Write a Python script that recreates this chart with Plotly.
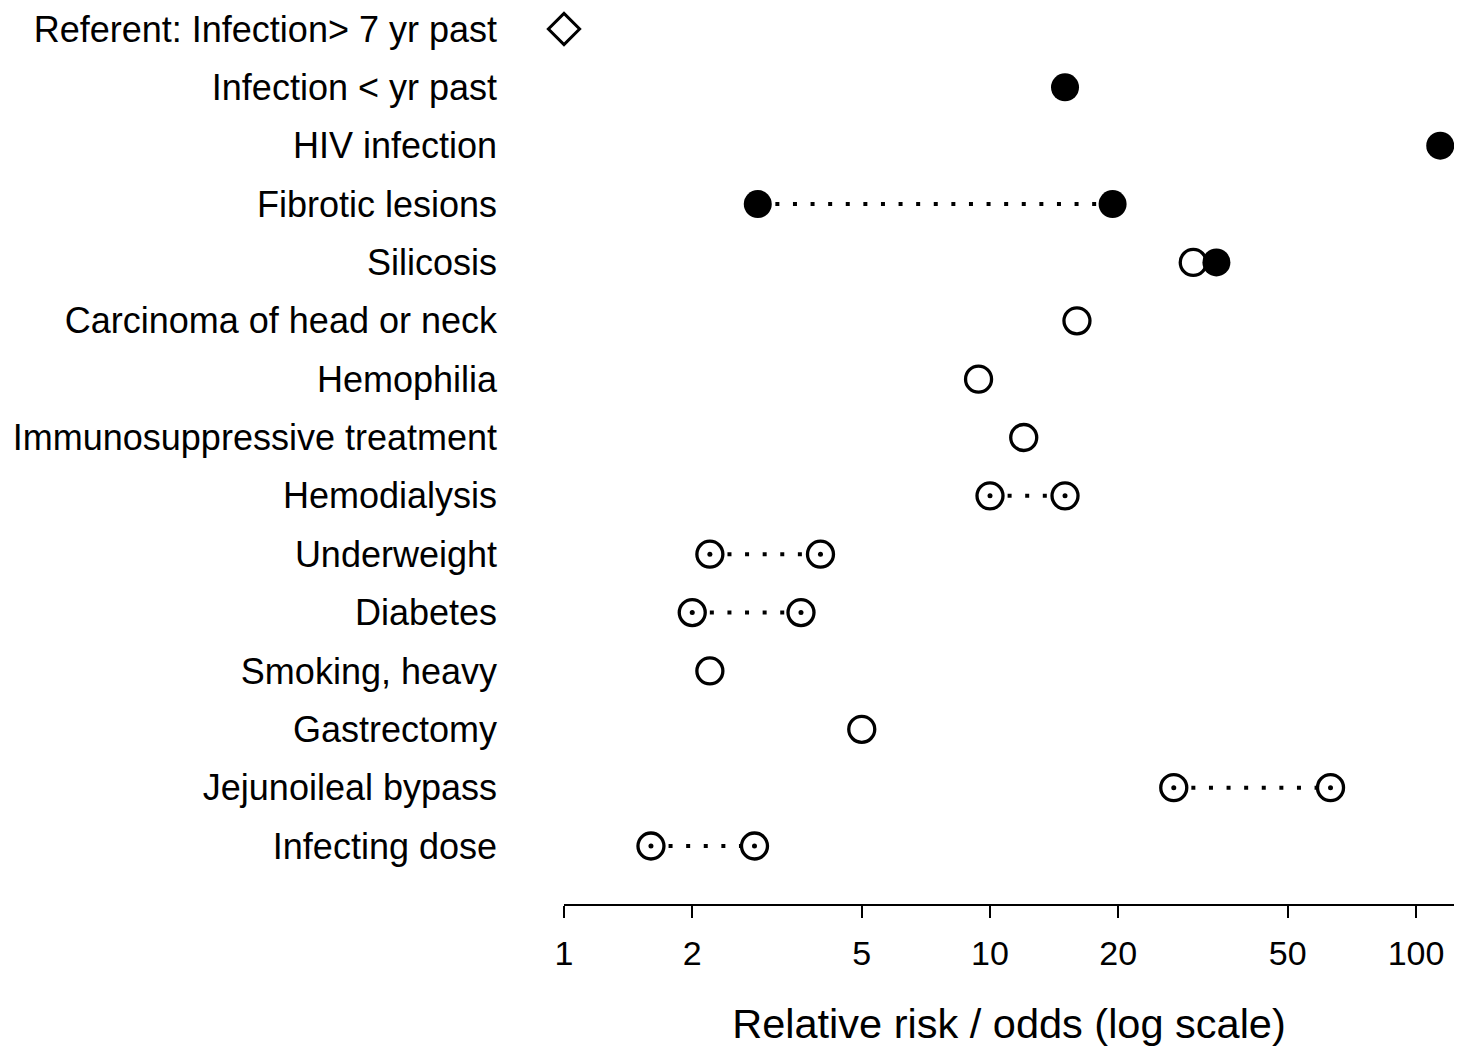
import plotly.graph_objects as go

# ---- data ----
labels = [
    "Referent: Infection> 7 yr past",
    "Infection < yr past",
    "HIV infection",
    "Fibrotic lesions",
    "Silicosis",
    "Carcinoma of head or neck",
    "Hemophilia",
    "Immunosuppressive treatment",
    "Hemodialysis",
    "Underweight",
    "Diabetes",
    "Smoking, heavy",
    "Gastrectomy",
    "Jejunoileal bypass",
    "Infecting dose",
]
risk_low = [1, 15, 114, 2.85, 30, 16, 9.4, 12, 10, 2.2, 2.0, 2.2, 5.0, 27, 1.6]
risk_high = [None, None, None, 19.4, 34, None, None, None, 15, 4.0, 3.6, None, None, 63, 2.8]
low_style = ["referent", "filled", "filled", "filled", "open", "open", "open", "open",
             "opendot", "opendot", "opendot", "open", "open", "opendot", "opendot"]
high_style = [None, None, None, "filled", "filled", None, None, None,
              "opendot", "opendot", "opendot", None, None, "opendot", "opendot"]
tick_values = [1, 2, 5, 10, 20, 50, 100]
x_title = "Relative risk / odds (log scale)"

FONT = "Liberation Sans, Arial, sans-serif"
rows = list(range(len(labels)))

# group points by style
pts = {"referent": ([], []), "filled": ([], []), "open": ([], []), "opendot": ([], [])}
for i in rows:
    for v, s in ((risk_low[i], low_style[i]), (risk_high[i], high_style[i])):
        if v is not None and s is not None:
            pts[s][0].append(v)
            pts[s][1].append(i)

# dotted connectors between the two estimates of a row
lx, ly = [], []
for i in rows:
    if risk_high[i] is not None:
        lx += [risk_low[i], risk_high[i], None]
        ly += [i, i, None]

fig = go.Figure()
fig.add_trace(go.Scatter(x=lx, y=ly, mode="lines",
                         line=dict(color="black", width=4, dash="4px,13.6px"),
                         cliponaxis=False, hoverinfo="skip"))
fig.add_trace(go.Scatter(x=pts["referent"][0], y=pts["referent"][1], mode="markers",
                         marker=dict(symbol="diamond", size=24, color="white",
                                     line=dict(color="black", width=3)),
                         cliponaxis=False))
fig.add_trace(go.Scatter(x=pts["open"][0] + pts["opendot"][0],
                         y=pts["open"][1] + pts["opendot"][1], mode="markers",
                         marker=dict(symbol="circle", size=26, color="white",
                                     line=dict(color="black", width=3.3)),
                         cliponaxis=False))
fig.add_trace(go.Scatter(x=pts["opendot"][0], y=pts["opendot"][1], mode="markers",
                         marker=dict(symbol="circle", size=5, color="black",
                                     line=dict(width=0)),
                         cliponaxis=False))
fig.add_trace(go.Scatter(x=pts["filled"][0], y=pts["filled"][1], mode="markers",
                         marker=dict(symbol="circle", size=28, color="black",
                                     line=dict(width=0)),
                         cliponaxis=False))

# page body has an 8px margin; visible width is limited to the body width
fig.update_layout(
    width=1446, height=1041,
    margin=dict(l=556, r=0, t=0, b=145, autoexpand=False),
    paper_bgcolor="white", plot_bgcolor="white",
    showlegend=False,
    font=dict(family=FONT, color="black"),
)
fig.update_xaxes(
    type="log", range=[0, 2.0892],
    tickvals=tick_values, ticktext=[str(v) for v in tick_values],
    showline=True, linecolor="black", linewidth=2,
    ticks="outside", ticklen=12, tickwidth=2, tickcolor="black",
    tickfont=dict(size=34, family=FONT),
    ticklabelstandoff=6,
    showgrid=False, zeroline=False,
    title=dict(text=x_title, font=dict(size=41.5, family=FONT), standoff=38),
)
fig.update_yaxes(
    range=[14.994, -0.36],
    tickvals=rows, ticktext=labels,
    tickfont=dict(size=36, family=FONT),
    ticks="", showline=False, showgrid=False, zeroline=False,
    ticklabelstandoff=66,
)

fig.write_html("out.html")
